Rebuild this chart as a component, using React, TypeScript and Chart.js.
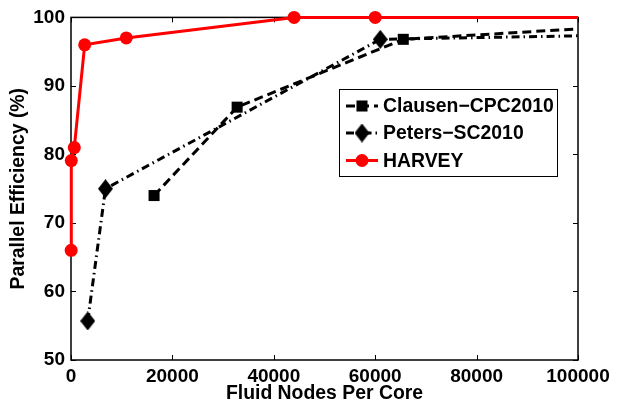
import React, { useEffect, useRef } from "react";
import { Chart, registerables } from "chart.js";

Chart.register(...registerables);

// ---- data ----
const clausenX = [16384, 32768, 65536, 131072];
const clausenY = [74.0, 86.9, 96.8, 99.7];
const petersX = [3300, 6800, 61000, 122000];
const petersY = [55.7, 75.0, 96.8, 97.6];
const harveyX = [30, 60, 650, 2700, 10900, 44000, 60000, 130000];
const harveyY = [66.0, 79.1, 81.0, 96.0, 97.0, 100, 100, 100];
const xTicks = [0, 20000, 40000, 60000, 80000, 100000];
const yTicks = [50, 60, 70, 80, 90, 100];
const seriesNames = ["Clausen\u2212CPC2010", "Peters\u2212SC2010", "HARVEY"];
const xTitle = "Fluid Nodes Per Core";
const yTitle = "Parallel Efficiency (%)";

const FONT = "'Liberation Sans', Arial, Helvetica, sans-serif";

function makeDiamond(w: number, h: number): HTMLCanvasElement {
  const c = document.createElement("canvas");
  c.width = w;
  c.height = h;
  const g = c.getContext("2d")!;
  g.fillStyle = "#000";
  g.beginPath();
  g.moveTo(w / 2, 0);
  g.lineTo(w, h / 2);
  g.lineTo(w / 2, h);
  g.lineTo(0, h / 2);
  g.closePath();
  g.fill();
  return c;
}

export default function App() {
  const ref = useRef<HTMLCanvasElement | null>(null);

  useEffect(() => {
    document.body.style.margin = "0";
    const canvas = ref.current!;
    const diamond = makeDiamond(15, 19);

    const framePlugin = {
      id: "frame",
      beforeDatasetsDraw(chart: any) {
        const { ctx, chartArea: a, scales } = chart;
        ctx.save();
        ctx.strokeStyle = "#000";
        ctx.lineWidth = 1.5;
        ctx.strokeRect(a.left, a.top, a.right - a.left, a.bottom - a.top);
        const L = 5;
        ctx.beginPath();
        for (const v of xTicks) {
          const px = Math.round(scales.x.getPixelForValue(v)) + 0.5;
          ctx.moveTo(px, a.bottom);
          ctx.lineTo(px, a.bottom - L);
          ctx.moveTo(px, a.top);
          ctx.lineTo(px, a.top + L);
        }
        for (const v of yTicks) {
          const py = Math.round(scales.y.getPixelForValue(v)) + 0.5;
          ctx.moveTo(a.left, py);
          ctx.lineTo(a.left + L, py);
          ctx.moveTo(a.right, py);
          ctx.lineTo(a.right - L, py);
        }
        ctx.lineWidth = 1;
        ctx.stroke();
        ctx.restore();
      },
    };

    const legendPlugin = {
      id: "customLegend",
      afterDatasetsDraw(chart: any) {
        const { ctx } = chart;
        const bx = 339, by = 89, bw = 218, bh = 87;
        ctx.save();
        ctx.fillStyle = "#fff";
        ctx.fillRect(bx, by, bw, bh);
        ctx.strokeStyle = "#000";
        ctx.lineWidth = 1;
        ctx.strokeRect(bx + 0.5, by + 0.5, bw, bh);
        const rows = [106, 133, 160.5];
        chart.data.datasets.forEach((ds: any, i: number) => {
          const y = rows[i];
          ctx.save();
          ctx.strokeStyle = ds.borderColor;
          ctx.lineWidth = ds.borderWidth;
          ctx.setLineDash(ds.borderDash || []);
          ctx.beginPath();
          ctx.moveTo(346, y);
          ctx.lineTo(378, y);
          ctx.stroke();
          ctx.restore();
          const cx = 362;
          ctx.fillStyle = ds.pointBackgroundColor;
          if (ds.pointStyle === "circle") {
            ctx.beginPath();
            ctx.arc(cx, y, ds.pointRadius, 0, Math.PI * 2);
            ctx.fill();
          } else if (ds.pointStyle === "rect") {
            const s = ds.pointRadius * Math.SQRT1_2;
            ctx.fillRect(cx - s, y - s, 2 * s, 2 * s);
          } else {
            const img = ds.pointStyle as HTMLCanvasElement;
            ctx.drawImage(img, cx - img.width / 2, y - img.height / 2);
          }
          ctx.fillStyle = "#000";
          ctx.font = `bold 19.4px ${FONT}`;
          ctx.textBaseline = "middle";
          ctx.textAlign = "left";
          ctx.fillText(ds.label, 383, y + 1);
        });
        ctx.restore();
      },
    };

    const clip = { left: false, top: false, right: 0, bottom: false } as any;

    const chart = new Chart(canvas, {
      type: "line",
      data: {
        datasets: [
          {
            label: seriesNames[0],
            data: clausenX.map((x, i) => ({ x, y: clausenY[i] })),
            borderColor: "#000",
            backgroundColor: "#000",
            pointBackgroundColor: "#000",
            pointBorderColor: "#000",
            pointBorderWidth: 0,
            borderWidth: 3,
            borderDash: [9, 5],
            pointStyle: "rect",
            pointRadius: 7.8,
            clip,
          } as any,
          {
            label: seriesNames[1],
            data: petersX.map((x, i) => ({ x, y: petersY[i] })),
            borderColor: "#000",
            backgroundColor: "#000",
            pointBackgroundColor: "#000",
            pointBorderColor: "#000",
            pointBorderWidth: 0,
            borderWidth: 3,
            borderDash: [8, 4, 1.5, 4],
            pointStyle: diamond,
            pointRadius: 8,
            clip,
          } as any,
          {
            label: seriesNames[2],
            data: harveyX.map((x, i) => ({ x, y: harveyY[i] })),
            borderColor: "#ff0000",
            backgroundColor: "#ff0000",
            pointBackgroundColor: "#ff0000",
            pointBorderColor: "#ff0000",
            pointBorderWidth: 0,
            borderWidth: 3,
            pointStyle: "circle",
            pointRadius: 6.5,
            clip,
          } as any,
        ],
      },
      options: {
        animation: false,
        responsive: false,
        devicePixelRatio: 1,
        layout: { padding: { top: 16, right: 40, left: 0, bottom: 0 } },
        plugins: {
          legend: { display: false },
          tooltip: { enabled: false },
        },
        elements: { line: { tension: 0 } },
        scales: {
          x: {
            type: "linear",
            min: 0,
            max: 100000,
            grid: { display: false, drawTicks: false },
            border: { display: false },
            afterBuildTicks: (s: any) => {
              s.ticks = xTicks.map((v) => ({ value: v }));
            },
            afterFit: (s: any) => {
              s.height = 44;
            },
            ticks: {
              color: "#000",
              font: { family: FONT, size: 19, weight: "bold" },
              padding: 5,
              maxRotation: 0,
              autoSkip: false,
              callback: (v: any) => String(v),
            },
            title: {
              display: true,
              text: xTitle,
              color: "#000",
              font: { family: FONT, size: 19.4, weight: "bold", lineHeight: 1.1 },
              padding: { top: 0, bottom: 0 },
            },
          },
          y: {
            type: "linear",
            min: 50,
            max: 100,
            grid: { display: false, drawTicks: false },
            border: { display: false },
            afterBuildTicks: (s: any) => {
              s.ticks = yTicks.map((v) => ({ value: v }));
            },
            afterFit: (s: any) => {
              s.width = 71;
            },
            ticks: {
              color: "#000",
              font: { family: FONT, size: 19, weight: "bold" },
              padding: 6,
              autoSkip: false,
              callback: (v: any) => String(v),
            },
            title: {
              display: true,
              text: yTitle,
              color: "#000",
              font: { family: FONT, size: 19.4, weight: "bold" },
              padding: { top: 7, bottom: 0 },
            },
          },
        },
      } as any,
      plugins: [framePlugin, legendPlugin],
    });

    return () => chart.destroy();
  }, []);

  return (
    <div style={{ width: 618, height: 404, background: "#fff" }}>
      <canvas ref={ref} width={618} height={404} style={{ display: "block" }} />
    </div>
  );
}
